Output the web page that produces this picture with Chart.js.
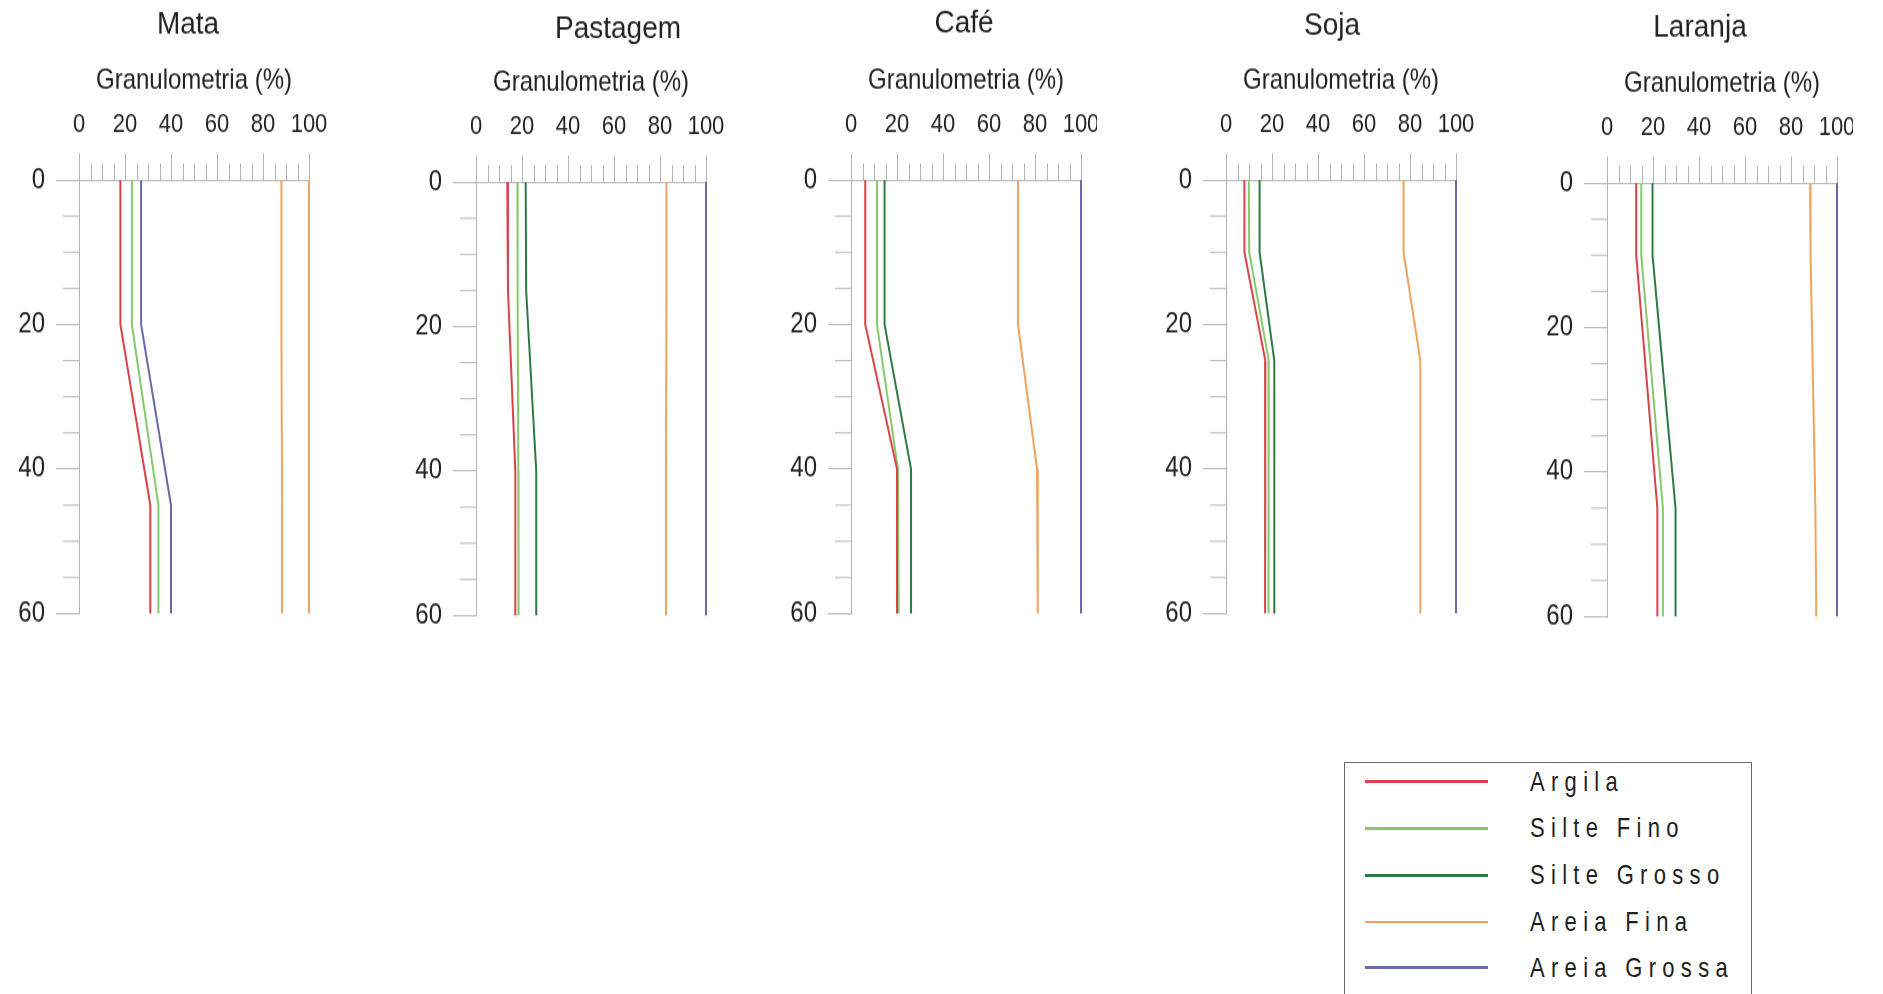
<!DOCTYPE html>
<html>
<head>
<meta charset="utf-8">
<script src="https://cdn.jsdelivr.net/npm/chart.js@4/dist/chart.umd.min.js"></script>
<style>
  html, body { margin: 0; padding: 0; background: #fff; }
  body { width: 1883px; height: 994px; position: relative; overflow: hidden; font-family: "Liberation Sans", Arial, sans-serif; }
  .panel { position: absolute; top: 0; transform-origin: 0 0; overflow: hidden; }
  .panel canvas { display: block; }
  #legend { position: absolute; left: 1344px; top: 762px; width: 408px; height: 260px; border: 1.5px solid #666; box-sizing: border-box; }
  .lg-row { position: absolute; left: 0; height: 0; width: 100%; }
  .lg-line { position: absolute; left: 19.5px; width: 123px; height: 2.5px; top: -1.25px; }
  .lg-text { position: absolute; left: 185px; top: -15px; font-size: 22px; letter-spacing: 6.3px; color: #1e1e1e; white-space: nowrap; line-height: 30px; transform: scaleY(1.22); transform-origin: 0 50%; }
</style>
</head>
<body>
<div id="legend"></div>
<script>
// ---------------- DATA ----------------
const categories = ['Mata', 'Pastagem', 'Café', 'Soja', 'Laranja'];
const seriesNames = ['Argila', 'Silte Fino', 'Silte Grosso', 'Areia Fina', 'Areia Grossa'];
const xTickLabels = [0, 20, 40, 60, 80, 100];
const yTickLabels = [0, 20, 40, 60];
const axisTitle = 'Granulometria (%)';

// Depth (cm) breakpoints and cumulative granulometry (%) per land use
const mataDepth          = [0, 20, 45, 60];
const mataArgila         = [18, 18, 31, 31];
const mataSilteFino      = [23, 23, 34.5, 34.5];
const mataSilteGrosso    = [27, 27, 40, 40];
const mataAreiaFina      = [88, 88, 88.3, 88.3];
const mataAreiaGrossa    = [100, 100, 100, 100];

const pastagemDepth       = [0, 15, 40, 60];
const pastagemArgila      = [13.6, 13.9, 17.1, 17.1];
const pastagemSilteFino   = [18, 18.1, 18.4, 18.5];
const pastagemSilteGrosso = [21.6, 21.8, 26.2, 26.2];
const pastagemAreiaFina   = [82.8, 82.8, 82.6, 82.6];
const pastagemAreiaGrossa = [100, 100, 100, 100];

const cafeDepth       = [0, 20, 40, 60];
const cafeArgila      = [6.2, 6.2, 20, 20];
const cafeSilteFino   = [11.3, 11.3, 20.4, 20.7];
const cafeSilteGrosso = [14.6, 14.6, 26.1, 26.1];
const cafeAreiaFina   = [72.6, 72.6, 80.9, 81.2];
const cafeAreiaGrossa = [100, 100, 100, 100];

const sojaDepth       = [0, 10, 25, 60];
const sojaArgila      = [8, 8, 17.1, 17];
const sojaSilteFino   = [9.9, 10.1, 18.6, 18.5];
const sojaSilteGrosso = [14.6, 14.6, 21, 21];
const sojaAreiaFina   = [77.2, 77.2, 84.5, 84.5];
const sojaAreiaGrossa = [100, 100, 100, 100];

const laranjaDepth       = [0, 10, 45, 60];
const laranjaArgila      = [12.7, 12.7, 21.9, 21.9];
const laranjaSilteFino   = [14.9, 14.9, 24.3, 24.3];
const laranjaSilteGrosso = [19.8, 19.8, 29.8, 29.8];
const laranjaAreiaFina   = [88.3, 88.5, 90.6, 91];
const laranjaAreiaGrossa = [100, 100, 100, 100];

// ---------------- STYLE ----------------
const FONT = '"Liberation Sans", Arial, sans-serif';
const TEXT = '#222222';
const AXIS = '#b3b3b3';
const C = { red: '#d9434b', lgreen: '#86c96a', dgreen: '#2d7a45', orange: '#f0a35e', blue: '#6a6aa8' };
const legendColors = [C.red, C.lgreen, C.dgreen, C.orange, C.blue];
const STRETCH = 1.2;        // vertical stretch of the reference graphic

const CW = 80 + 230 + 40;    // canvas width
const TOP_I = 150;           // internal chart-area top
const PLOT_H = 361.25;       // internal chart-area height
const CH = 528;              // internal canvas height
const PAD_B = CH - TOP_I - PLOT_H;

const panels = [
  { depth: mataDepth, series: [mataArgila, mataSilteFino, mataSilteGrosso, mataAreiaFina, mataAreiaGrossa],
    colors: [C.red, C.lgreen, C.blue, C.orange, C.orange], left: -1, top: 0, titleDx: -6, titleY: 21.5, clipW: CW },
  { depth: pastagemDepth, series: [pastagemArgila, pastagemSilteFino, pastagemSilteGrosso, pastagemAreiaFina, pastagemAreiaGrossa],
    colors: legendColors, left: 396, top: 2, titleDx: 27, titleY: 23.5, clipW: CW },
  { depth: cafeDepth, series: [cafeArgila, cafeSilteFino, cafeSilteGrosso, cafeAreiaFina, cafeAreiaGrossa],
    colors: legendColors, left: 771, top: 0, titleDx: -2, titleY: 20, clipW: 326 },
  { depth: sojaDepth, series: [sojaArgila, sojaSilteFino, sojaSilteGrosso, sojaAreiaFina, sojaAreiaGrossa],
    colors: legendColors, left: 1146, top: 0, titleDx: -9, titleY: 22, clipW: CW },
  { depth: laranjaDepth, series: [laranjaArgila, laranjaSilteFino, laranjaSilteGrosso, laranjaAreiaFina, laranjaAreiaGrossa],
    colors: legendColors, left: 1527, top: 3, titleDx: -22, titleY: 21, clipW: 326 }
];

const panelTitlePlugin = {
  id: 'panelTitle',
  afterDraw(chart, args, opts) {
    const { ctx, chartArea } = chart;
    ctx.save();
    ctx.translate((chartArea.left + chartArea.right) / 2 + opts.dx, opts.y);
    ctx.scale(1, 0.9);
    ctx.font = '28px ' + FONT;
    ctx.fillStyle = TEXT;
    ctx.textAlign = 'center';
    ctx.textBaseline = 'middle';
    ctx.fillText(opts.text, 0, 0);
    ctx.restore();
  }
};

const minorTicksPlugin = {
  id: 'minorTicks',
  afterDraw(chart) {
    const { ctx, chartArea } = chart;
    const xs = chart.scales.x, ys = chart.scales.y;
    ctx.save();
    ctx.strokeStyle = AXIS;
    ctx.lineWidth = 1;
    ctx.beginPath();
    for (let v = 5; v < xs.max; v += 5) {
      if (v % 20 === 0) continue;
      const px = Math.round(xs.getPixelForValue(v)) + 0.5;
      ctx.moveTo(px, chartArea.top);
      ctx.lineTo(px, chartArea.top - 13.9);
    }
    for (let d = 5; d < ys.max; d += 5) {
      if (d % 20 === 0) continue;
      const py = ys.getPixelForValue(d);
      ctx.moveTo(chartArea.left - 16, py);
      ctx.lineTo(chartArea.left, py);
    }
    ctx.stroke();
    ctx.restore();
  }
};

panels.forEach((p, i) => {
  const wrap = document.createElement('div');
  wrap.className = 'panel';
  wrap.style.left = p.left + 'px';
  wrap.style.top = p.top + 'px';
  wrap.style.width = p.clipW + 'px';
  wrap.style.height = CH + 'px';
  wrap.style.transform = 'scaleY(' + STRETCH + ')';
  const cv = document.createElement('canvas');
  cv.width = CW; cv.height = CH;
  cv.style.width = CW + 'px';
  cv.style.height = CH + 'px';
  wrap.appendChild(cv);
  document.body.appendChild(wrap);

  const datasets = p.series.map((vals, k) => ({
    label: seriesNames[k],
    data: vals.map((v, j) => ({ x: v, y: p.depth[j] })),
    borderColor: p.colors[k],
    backgroundColor: p.colors[k],
    borderWidth: 2,
    pointRadius: 0,
    tension: 0,
    fill: false,
    clip: false
  }));

  new Chart(cv, {
    type: 'line',
    data: { datasets },
    plugins: [panelTitlePlugin, minorTicksPlugin],
    options: {
      responsive: false,
      animation: false,
      devicePixelRatio: 1,
      layout: { padding: { left: 0, right: 40, top: 0, bottom: PAD_B } },
      plugins: {
        legend: { display: false },
        tooltip: { enabled: false },
        title: { display: false },
        panelTitle: { text: categories[i], dx: p.titleDx, y: p.titleY }
      },
      scales: {
        x: {
          type: 'linear',
          position: 'top',
          min: xTickLabels[0],
          max: xTickLabels[xTickLabels.length - 1],
          afterBuildTicks: (s) => { s.ticks = xTickLabels.map(v => ({ value: v })); },
          afterFit: (s) => { s.height = TOP_I; s.paddingLeft = 0; s.paddingRight = 0; },
          ticks: { color: TEXT, font: { family: FONT, size: 22 }, padding: 10.4, maxRotation: 0, autoSkip: false },
          grid: { display: true, drawOnChartArea: false, drawTicks: true, tickLength: 22.2, tickColor: AXIS, tickWidth: 1 },
          border: { display: true, color: AXIS, width: 1 },
          title: { display: true, text: axisTitle, color: TEXT, font: { family: FONT, size: 24 }, padding: { top: 52.5, bottom: 0 } }
        },
        y: {
          type: 'linear',
          position: 'left',
          reverse: true,
          min: yTickLabels[0],
          max: yTickLabels[yTickLabels.length - 1],
          afterBuildTicks: (s) => { s.ticks = yTickLabels.map(v => ({ value: v })); },
          afterFit: (s) => { s.width = 80; s.paddingTop = 0; s.paddingBottom = 0; },
          ticks: { color: TEXT, font: { family: FONT, size: 24 }, padding: 11, autoSkip: false },
          grid: { display: true, drawOnChartArea: false, drawTicks: true, tickLength: 23, tickColor: AXIS, tickWidth: 1 },
          border: { display: true, color: AXIS, width: 1 }
        }
      }
    }
  });
});

// ---------------- LEGEND ----------------
const legend = document.getElementById('legend');
const rowY = [18.6, 65.4, 112.3, 159.1, 204.7];
seriesNames.forEach((name, k) => {
  const row = document.createElement('div');
  row.className = 'lg-row';
  row.style.top = rowY[k] + 'px';
  const line = document.createElement('div');
  line.className = 'lg-line';
  line.style.background = legendColors[k];
  const txt = document.createElement('div');
  txt.className = 'lg-text';
  txt.textContent = name;
  row.appendChild(line);
  row.appendChild(txt);
  legend.appendChild(row);
});
</script>
</body>
</html>
